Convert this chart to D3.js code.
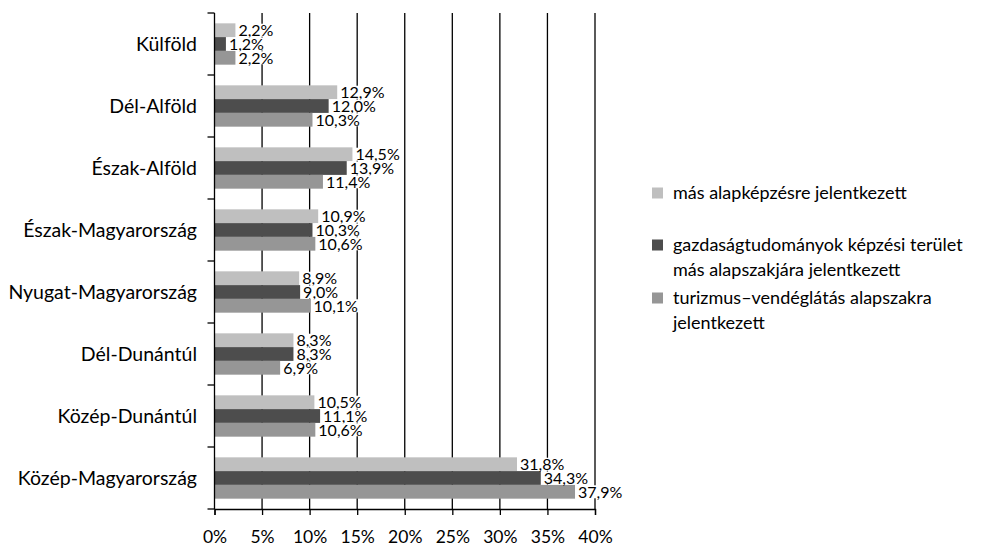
<!DOCTYPE html>
<html>
<head>
<meta charset="utf-8">
<script src="https://cdn.jsdelivr.net/npm/d3@7"></script>
<style>
  body { margin: 0; background: #fff; }
  svg text { font-family: Lato, "Open Sans", sans-serif; fill: #000; }
</style>
</head>
<body>
<div id="chart"></div>
<script>
var width = 993, height = 547;
var margin = { top: 13, left: 214.5, plotRight: 595, bottom: 509 };

// data
var regions = ["Külföld", "Dél-Alföld", "Észak-Alföld", "Észak-Magyarország",
  "Nyugat-Magyarország", "Dél-Dunántúl", "Közép-Dunántúl", "Közép-Magyarország"];
var masAlap = [2.2, 12.9, 14.5, 10.9, 8.9, 8.3, 10.5, 31.8];
var gazdasag = [1.2, 12.0, 13.9, 10.3, 9.0, 8.3, 11.1, 34.3];
var turizmus = [2.2, 10.3, 11.4, 10.6, 10.1, 6.9, 10.6, 37.9];
var xTicks = [0, 5, 10, 15, 20, 25, 30, 35, 40];
var legendLines = [
  ["más alapképzésre jelentkezett"],
  ["gazdaságtudományok képzési terület", "más alapszakjára jelentkezett"],
  ["turizmus–vendéglátás alapszakra", "jelentkezett"]
];

var colors = ["#bfbfbf", "#4d4d4d", "#969696"];
var series = [masAlap, gazdasag, turizmus];

var svg = d3.select("#chart").append("svg")
    .attr("width", width)
    .attr("height", height);

var x = d3.scaleLinear().domain([0, 40]).range([margin.left, margin.plotRight]);
var y = d3.scaleBand().domain(regions).range([margin.top, margin.bottom]);
var inner = d3.scaleBand().domain([0, 1, 2]).range([0, y.bandwidth()]).paddingOuter(0.75).paddingInner(0);

var fmt = function(v) { return v.toFixed(1).replace(".", ",") + "%"; };

// gridlines
svg.append("g").selectAll("line").data(xTicks.slice(1)).enter().append("line")
  .attr("x1", function(d) { return x(d); })
  .attr("x2", function(d) { return x(d); })
  .attr("y1", margin.top)
  .attr("y2", margin.bottom)
  .attr("stroke", "#000")
  .attr("stroke-width", 1.3);

// bars
series.forEach(function(vals, s) {
  svg.append("g").selectAll("rect").data(vals).enter().append("rect")
    .attr("x", x(0))
    .attr("y", function(d, i) { return y(regions[i]) + inner(s); })
    .attr("width", function(d) { return x(d) - x(0); })
    .attr("height", inner.bandwidth())
    .attr("fill", colors[s]);
});

// value labels with white background
series.forEach(function(vals, s) {
  var g = svg.append("g").selectAll("g").data(vals).enter().append("g")
    .attr("transform", function(d, i) {
      return "translate(" + (x(d) + 2) + "," + (y(regions[i]) + inner(s) + inner.bandwidth() / 2) + ")";
    });
  g.append("rect")
    .attr("x", 0).attr("y", -6.5)
    .attr("height", 13)
    .attr("width", function(d) { return fmt(d).length * 9.2; })
    .attr("fill", "#fff");
  g.append("text")
    .attr("x", 1)
    .attr("dy", "0.36em")
    .attr("font-size", "16px")
    .text(fmt);
});

// y axis
var yAxis = svg.append("g");
yAxis.append("line")
  .attr("x1", x(0)).attr("x2", x(0))
  .attr("y1", margin.top).attr("y2", margin.bottom)
  .attr("stroke", "#000").attr("stroke-width", 1.3);
var yTicks = regions.map(function(r) { return y(r); }).concat([margin.bottom]);
yAxis.selectAll(".tk").data(yTicks).enter().append("line")
  .attr("x1", x(0) - 7).attr("x2", x(0))
  .attr("y1", function(d) { return d; }).attr("y2", function(d) { return d; })
  .attr("stroke", "#000").attr("stroke-width", 1.3);
yAxis.selectAll("text").data(regions).enter().append("text")
  .attr("x", 197)
  .attr("y", function(d) { return y(d) + y.bandwidth() / 2; })
  .attr("dy", "0.36em")
  .attr("text-anchor", "end")
  .attr("font-size", "19.5px")
  .text(function(d) { return d; });

// x axis
var xAxis = d3.axisBottom(x).tickValues(xTicks).tickSize(6)
  .tickFormat(function(d) { return d + "%"; });
var xg = svg.append("g")
  .attr("transform", "translate(0," + margin.bottom + ")")
  .call(xAxis);
xg.select(".domain").attr("stroke", "#000").attr("stroke-width", 1.3);
xg.selectAll(".tick line").attr("stroke", "#000").attr("stroke-width", 1.3);
xg.selectAll(".tick text")
  .attr("y", 22)
  .attr("font-size", "17.5px")
  .attr("font-family", "Lato, 'Open Sans', sans-serif")
  .attr("fill", "#000");

// legend
var legendY = [193, 245, 298];
var lg = svg.append("g").selectAll("g").data(legendLines).enter().append("g")
  .attr("transform", function(d, i) { return "translate(652," + legendY[i] + ")"; });
lg.append("rect")
  .attr("x", 0).attr("y", -5.5)
  .attr("width", 11).attr("height", 11)
  .attr("fill", function(d, i) { return colors[i]; });
lg.selectAll("text").data(function(d) { return d; }).enter().append("text")
  .attr("x", 21)
  .attr("y", function(d, j) { return j * 25; })
  .attr("dy", "0.36em")
  .attr("font-size", "18px")
  .text(function(d) { return d; });
</script>
</body>
</html>
